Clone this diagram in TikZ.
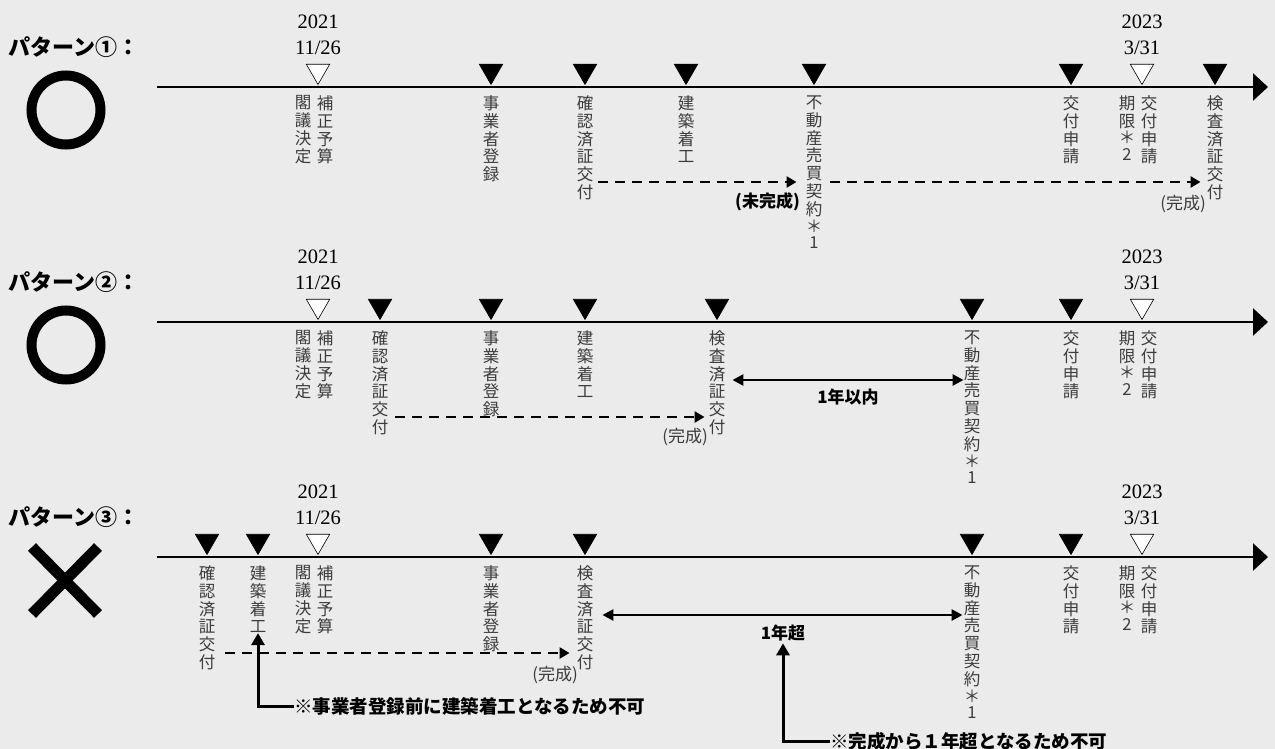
\documentclass[tikz,border=0pt]{standalone}
\usepackage{fontspec}
\newfontfamily\jp{Noto Sans CJK JP}
\newfontfamily\dt{Liberation Serif}
\usetikzlibrary{positioning,arrows.meta,shapes.geometric}
\definecolor{bg}{HTML}{EBEBEB}
\definecolor{lab}{HTML}{3C3C3C}
\tikzset{
  mk/.style={regular polygon, regular polygon sides=3, shape border rotate=180,
    minimum size=27pt, inner sep=0pt, outer sep=0pt, draw=black, fill=black, line width=0.6pt},
  mkw/.style={mk, fill=white},
  lbl/.style={font=\jp\fontsize{16.5}{17.8}\selectfont, text=lab, align=center, inner sep=0pt},
  date/.style={font=\dt\fontsize{20.5}{26}\selectfont, align=center, inner sep=0pt},
  ttl/.style={font=\jp\bfseries\fontsize{22}{25}\selectfont, inner sep=0pt, anchor=west},
  bld/.style={font=\jp\bfseries\fontsize{17}{20}\selectfont, inner sep=0pt},
  note/.style={font=\jp\bfseries\fontsize{18.5}{21}\selectfont, inner sep=0pt, anchor=west},
  sml/.style={font=\jp\fontsize{17}{19}\selectfont, text=lab, inner sep=0pt},
  tl/.style={line width=2.6pt, -{Triangle[length=15pt,width=27pt]}},
  dasharr/.style={line width=2.4pt, dash pattern=on 10pt off 7pt, -{Triangle[length=10pt,width=11pt]}},
  dbl/.style={line width=2.6pt, {Triangle[length=11pt,width=11pt]}-{Triangle[length=11pt,width=11pt]}},
  upa/.style={line width=3pt, -{Triangle[length=12pt,width=13pt]}}
}
\begin{document}
\begin{tikzpicture}[x=1pt,y=-1pt]
\fill[bg] (0,0) rectangle (1275,749);
\useasboundingbox (0,0) rectangle (1275,749);
\begin{scope}
\node[ttl] (p) at (8,47) {パターン①：};
\draw[line width=10pt] (66,110) circle[radius=34.5];
\coordinate (tl0) at (157,87);
\coordinate (tl1) at (1268,87);
\draw[tl] (tl0) -- (tl1);
\node[mkw] (m1) at (318,71) {};
\node[mk] (m2) at (491,71) {};
\node[mk] (m3) at (585,71) {};
\node[mk] (m4) at (686,71) {};
\node[mk] (m5) at (814,71) {};
\node[mk] (m6) at (1071,71) {};
\node[mkw] (m7) at (1142,71) {};
\node[mk] (m8) at (1215,71) {};
\node[date, above=9pt of m1] (d1) {2021\\11/26};
\node[date, above=9pt of m7] (d7) {2023\\3/31};
\node[lbl, below=11pt of m1, xshift=-15pt] (l1) {閣\\議\\決\\定};
\node[lbl, below=11pt of m1, xshift=7pt] (l1b) {補\\正\\予\\算};
\node[lbl, below=11pt of m2] (l2) {事\\業\\者\\登\\録};
\node[lbl, below=11pt of m3] (l3) {確\\認\\済\\証\\交\\付};
\node[lbl, below=11pt of m4] (l4) {建\\築\\着\\工};
\node[lbl, below=11pt of m5] (l5) {不\\動\\産\\売\\買\\契\\約\\[-1pt]＊\\[-1pt]1};
\node[lbl, below=11pt of m6] (l6) {交\\付\\申\\請};
\node[lbl, below=11pt of m7, xshift=-15pt] (l7) {期\\限\\[-1pt]＊\\[-1pt]2};
\node[lbl, below=11pt of m7, xshift=7pt] (l7b) {交\\付\\申\\請};
\node[lbl, below=11pt of m8] (l8) {検\\査\\済\\証\\交\\付};
\draw[dasharr, shorten <=5pt, shorten >=9pt] (l3.east |- 0,182) -- (l5.west |- 0,182);
\draw[dasharr, shorten <=8pt, shorten >=6pt] (l5.east |- 0,182) -- (l8.west |- 0,182);
\node[bld, anchor=east] (u1) at (800,202) {(未完成)};
\node[sml, anchor=east] (c1) at (1206,204) {(完成)};
\end{scope}
\begin{scope}[yshift=-235pt]
\node[ttl] (p) at (8,47) {パターン②：};
\draw[line width=10pt] (66,110) circle[radius=34.5];
\coordinate (tl0) at (157,87);
\coordinate (tl1) at (1268,87);
\draw[tl] (tl0) -- (tl1);
\node[mkw] (m1) at (318,71) {};
\node[mk] (m2) at (380,71) {};
\node[mk] (m3) at (491,71) {};
\node[mk] (m4) at (585,71) {};
\node[mk] (m5) at (717,71) {};
\node[mk] (m6) at (972,71) {};
\node[mk] (m7) at (1071,71) {};
\node[mkw] (m8) at (1142,71) {};
\node[date, above=9pt of m1] (d1) {2021\\11/26};
\node[date, above=9pt of m8] (d8) {2023\\3/31};
\node[lbl, below=11pt of m1, xshift=-15pt] (l1) {閣\\議\\決\\定};
\node[lbl, below=11pt of m1, xshift=7pt] (l1b) {補\\正\\予\\算};
\node[lbl, below=11pt of m2] (l2) {確\\認\\済\\証\\交\\付};
\node[lbl, below=11pt of m3] (l3) {事\\業\\者\\登\\録};
\node[lbl, below=11pt of m4] (l4) {建\\築\\着\\工};
\node[lbl, below=11pt of m5] (l5) {検\\査\\済\\証\\交\\付};
\node[lbl, below=11pt of m6] (l6) {不\\動\\産\\売\\買\\契\\約\\[-1pt]＊\\[-1pt]1};
\node[lbl, below=11pt of m7] (l7) {交\\付\\申\\請};
\node[lbl, below=11pt of m8, xshift=-15pt] (l8) {期\\限\\[-1pt]＊\\[-1pt]2};
\node[lbl, below=11pt of m8, xshift=7pt] (l8b) {交\\付\\申\\請};
\draw[dasharr, shorten <=7pt, shorten >=4pt] (l2.east |- 0,182) -- (l5.west |- 0,182);
\node[sml, anchor=east] (c1) at (708,202) {(完成)};
\draw[dbl, shorten <=7pt] (l5.east |- 0,145) -- (l6.west |- 0,145);
\node[bld] (t) at (848,162) {1年以内};
\end{scope}
\begin{scope}[yshift=-470pt]
\node[ttl] (p) at (8,47) {パターン③：};
\draw[line width=11pt] (32,77) -- (98,144) (32,144) -- (98,77);
\coordinate (tl0) at (157,87);
\coordinate (tl1) at (1268,87);
\draw[tl] (tl0) -- (tl1);
\node[mk] (m1) at (207,71) {};
\node[mk] (m2) at (258,71) {};
\node[mkw] (m3) at (318,71) {};
\node[mk] (m4) at (491,71) {};
\node[mk] (m5) at (585,71) {};
\node[mk] (m6) at (972,71) {};
\node[mk] (m7) at (1071,71) {};
\node[mkw] (m8) at (1142,71) {};
\node[date, above=9pt of m3] (d3) {2021\\11/26};
\node[date, above=9pt of m8] (d8) {2023\\3/31};
\node[lbl, below=11pt of m1] (l1) {確\\認\\済\\証\\交\\付};
\node[lbl, below=11pt of m2] (l2) {建\\築\\着\\工};
\node[lbl, below=11pt of m3, xshift=-15pt] (l3) {閣\\議\\決\\定};
\node[lbl, below=11pt of m3, xshift=7pt] (l3b) {補\\正\\予\\算};
\node[lbl, below=11pt of m4] (l4) {事\\業\\者\\登\\録};
\node[lbl, below=11pt of m5] (l5) {検\\査\\済\\証\\交\\付};
\node[lbl, below=11pt of m6] (l6) {不\\動\\産\\売\\買\\契\\約\\[-1pt]＊\\[-1pt]1};
\node[lbl, below=11pt of m7] (l7) {交\\付\\申\\請};
\node[lbl, below=11pt of m8, xshift=-15pt] (l8) {期\\限\\[-1pt]＊\\[-1pt]2};
\node[lbl, below=11pt of m8, xshift=7pt] (l8b) {交\\付\\申\\請};
\draw[dasharr, shorten <=10pt, shorten >=7pt] (l1.east |- 0,183) -- (l5.west |- 0,183);
\node[sml, anchor=east] (c1) at (578,205) {(完成)};
\draw[dbl, shorten <=9pt, shorten >=1pt] (l5.east |- 0,145) -- (l6.west |- 0,145);
\node[bld] (t) at (783,163) {1年超};
\node[note] (n1) at (294,236) {※事業者登録前に建築着工となるため不可};
\draw[upa] (n1.west) -| (l2.south);
\node[note] (n2) at (830,271) {※完成から１年超となるため不可};
\draw[upa, shorten >=2pt] (n2.west) -| (t.south);
\end{scope}
\end{tikzpicture}
\end{document}
